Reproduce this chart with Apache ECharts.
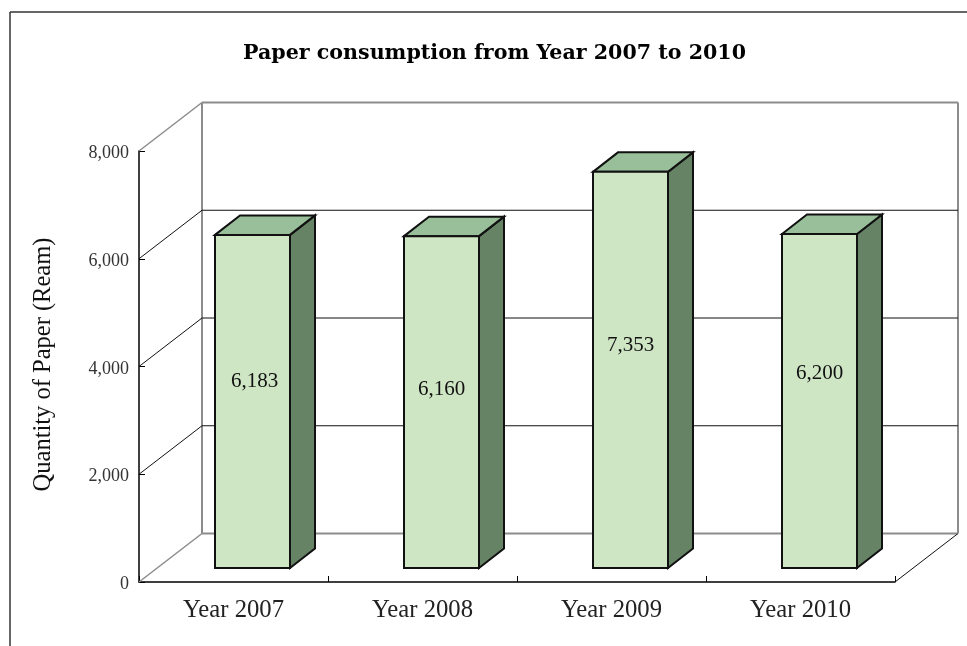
<!DOCTYPE html>
<html><head><meta charset="utf-8">
<style>html,body{margin:0;padding:0;background:#fff}#c{width:967px;height:646px}</style>
<script src="https://cdn.jsdelivr.net/npm/echarts@6/dist/echarts.min.js"></script>
</head><body><div id="c"></div>
<script>
const categories = ['Year 2007', 'Year 2008', 'Year 2009', 'Year 2010'];
const paperQuantity = [6183, 6160, 7353, 6200];
const yTicks = [0, 2000, 4000, 6000, 8000];
const titleText = 'Paper consumption from Year 2007 to 2010';
const yAxisName = 'Quantity of Paper (Ream)';

// drawing style, not data
const WALL = {dx: 63, dy: -48.5};
const BAR = {dx: 19, dy: -14, width: 75, depthX: 25, depthY: -19.5};
const LABEL_SHIFT = [[2, -20], [0, -13], [0, -24], [0, -28]];
const GRAY = '#8c8c8c', INK = '#111';

function line(x1, y1, x2, y2, stroke, w) {
  return {type: 'line', shape: {x1, y1, x2, y2}, style: {stroke, lineWidth: w, fill: null}};
}
function renderWall(params, api) {
  const v = api.value(1);
  const r = params.coordSys;
  const y = api.coord([0, v])[1];
  const edge = v === yTicks[0] || v === yTicks[yTicks.length - 1];
  const c = edge ? GRAY : INK, w = edge ? 2 : 1;
  const kids = [
    line(r.x, y, r.x + WALL.dx, y + WALL.dy, c, edge ? 1.5 : 1),
    line(r.x + WALL.dx, y + WALL.dy, r.x + r.width + WALL.dx, y + WALL.dy, c, w)
  ];
  if (v === yTicks[0]) {
    kids.push(line(r.x + r.width, y, r.x + r.width + WALL.dx, y + WALL.dy, INK, 1));
    const top = api.coord([0, yTicks[yTicks.length - 1]])[1] + WALL.dy;
    kids.push(line(r.x + WALL.dx, y + WALL.dy, r.x + WALL.dx, top, GRAY, 2));
    kids.push(line(r.x + r.width + WALL.dx, y + WALL.dy, r.x + r.width + WALL.dx, top, GRAY, 2));
  }
  return {type: 'group', children: kids};
}
function renderBar(params, api) {
  const i = api.value(0);
  const v = api.value(1);
  const t = api.coord([i, v]), b = api.coord([i, 0]);
  const xl = t[0] + BAR.dx - BAR.width / 2, xr = xl + BAR.width;
  const yt = t[1] + BAR.dy, yb = b[1] + BAR.dy;
  const dx = BAR.depthX, dy = BAR.depthY;
  const edge = {stroke: '#111', lineWidth: 2, lineJoin: 'miter'};
  const s = LABEL_SHIFT[params.dataIndex];
  return {type: 'group', children: [
    {type: 'polygon', shape: {points: [[xr, yt], [xr + dx, yt + dy], [xr + dx, yb + dy], [xr, yb]]},
      style: Object.assign({fill: '#668366'}, edge)},
    {type: 'polygon', shape: {points: [[xl, yt], [xl + dx, yt + dy], [xr + dx, yt + dy], [xr, yt]]},
      style: Object.assign({fill: '#98BE9A'}, edge)},
    {type: 'rect', shape: {x: xl, y: yt, width: BAR.width, height: yb - yt},
      style: Object.assign({fill: '#CFE6C5'}, edge)},
    {type: 'text', x: (xl + xr) / 2 + s[0], y: (yt + yb) / 2 + s[1],
      style: {text: v.toLocaleString('en-US'), font: '21px "Liberation Serif"', fill: '#111',
        align: 'center', verticalAlign: 'middle'}}
  ]};
}

const chart = echarts.init(document.getElementById('c'), null, {renderer: 'canvas'});
chart.setOption({
  animation: false,
  backgroundColor: '#fff',
  title: {
    text: titleText, left: 489.5, top: 38, textAlign: 'center',
    textStyle: {fontFamily: 'DejaVu Serif', fontWeight: 'bold', fontSize: 20.6, color: '#000'}
  },
  graphic: [
    {type: 'line', silent: true, shape: {x1: 10, y1: 12, x2: 967, y2: 12}, style: {stroke: '#333', lineWidth: 1.5}},
    {type: 'line', silent: true, shape: {x1: 10, y1: 12, x2: 10, y2: 646}, style: {stroke: '#333', lineWidth: 1.5}}
  ],
  grid: {left: 139, top: 151, width: 756, height: 431},
  xAxis: {
    type: 'category', data: categories, boundaryGap: true,
    axisLine: {lineStyle: {color: '#000', width: 1.5}},
    axisTick: {show: true, inside: true, length: 6, lineStyle: {color: '#000'}},
    axisLabel: {fontFamily: 'Liberation Serif', fontSize: 24.7, color: '#222', margin: 16}
  },
  yAxis: {
    type: 'value', min: 0, max: 8000, interval: 2000,
    name: yAxisName, nameLocation: 'middle', nameGap: 83, nameRotate: 90,
    nameTextStyle: {fontFamily: 'Liberation Serif', fontSize: 24.5, color: '#111', padding: [0, 0, 0, 4]},
    axisLine: {show: true, lineStyle: {color: '#000', width: 1.5}},
    axisTick: {show: true, inside: true, length: 6, lineStyle: {color: '#000'}},
    axisLabel: {margin: 10, formatter: v => '{t|' + v.toLocaleString('en-US') + '}',
      rich: {t: {fontFamily: 'Liberation Serif', fontSize: 18, color: '#333', padding: [5, 0, 0, 0]}}},
    splitLine: {show: false}
  },
  series: [
    {type: 'custom', clip: false, silent: true, z: 1, renderItem: renderWall,
      encode: {x: 0, y: 1}, data: yTicks.map(v => [0, v])},
    {type: 'custom', clip: false, z: 3, renderItem: renderBar,
      encode: {x: 0, y: 1}, data: paperQuantity.map((v, i) => [i, v])}
  ]
});
</script></body></html>
